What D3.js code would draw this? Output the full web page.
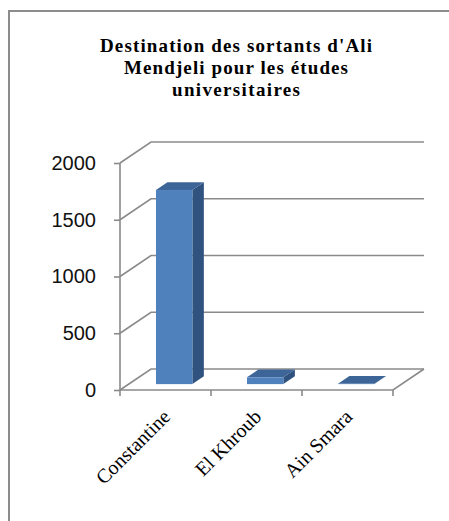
<!DOCTYPE html>
<html>
<head>
<meta charset="utf-8">
<script src="https://cdn.jsdelivr.net/npm/d3@7"></script>
<style>
  body{margin:0;background:#fff}
  svg{display:block}
</style>
</head>
<body>
<div class="chart"></div>
<script>
let titleLines=["Destination des sortants d'Ali","Mendjeli pour les études","universitaires"]
let categories=['Constantine','El Khroub','Ain Smara']
let values=[1710,60,3]
let yTicks=[0,500,1000,1500,2000]

let w=449, h=521
// front-left corner of the floor and the depth shift of the 3d box
let x0=120, x1=393, y0=390, yTop=163
let dx=31, dy=-21
let t0=0.28, t1=0.65   // bar front / back depth

let svg=d3.select('.chart').append('svg').attr('width',w).attr('height',h)

svg.append('rect').attr('x',9).attr('y',11).attr('width',470).attr('height',540)
  .attr('fill','none').attr('stroke','#8c8c8c').attr('stroke-width',2)

let yScale=d3.scaleLinear().domain([0,2000]).range([y0,yTop])
let xScale=d3.scaleBand().domain(categories).range([x0,x1])

// title
let tw=[272,224,128]
svg.selectAll('.title').data(titleLines).enter().append('text')
  .attr('class','title')
  .attr('x',236).attr('y',(d,i)=>52+i*22)
  .attr('text-anchor','middle')
  .attr('textLength',(d,i)=>tw[i]).attr('lengthAdjust','spacing')
  .style('font-family','Liberation Serif, serif').style('font-weight','bold').style('font-size','19px')
  .text(d=>d)

let grey='#8a8a8a'
// gridlines on the side and back wall
let line=d3.line()
svg.selectAll('.grid').data(yTicks).enter().append('path')
  .attr('class','grid')
  .attr('d',d=>line([[x0,yScale(d)],[x0+dx,yScale(d)+dy],[x1+dx,yScale(d)+dy]]))
  .attr('fill','none').attr('stroke',grey).attr('stroke-width',1.6)
// floor front and right edge
svg.append('path').attr('d',line([[x0,y0],[x1,y0],[x1+dx,y0+dy]]))
  .attr('fill','none').attr('stroke',grey).attr('stroke-width',1.6)

// y axis
let yAxis=d3.axisLeft(yScale).tickValues(yTicks).tickFormat(d3.format('d')).tickSize(6).tickPadding(18)
let gy=svg.append('g').attr('transform','translate('+x0+',0)').call(yAxis)
gy.select('.domain').attr('stroke',grey).attr('stroke-width',1.6).attr('d','M0,'+y0+'V'+yTop)
gy.selectAll('.tick line').attr('stroke',grey).attr('stroke-width',1.6)
gy.selectAll('.tick text').style('font-family','Liberation Sans, Arial, sans-serif').style('font-size','20px').attr('fill','#111')

// x axis ticks
let xt=categories.map(c=>xScale(c)).concat([x1])
svg.selectAll('.xtick').data(xt).enter().append('line')
  .attr('x1',d=>d).attr('x2',d=>d).attr('y1',y0).attr('y2',y0+6)
  .attr('stroke',grey).attr('stroke-width',1.6)

svg.selectAll('.xlab').data(categories).enter().append('text')
  .attr('transform',d=>'translate('+(xScale(d)+xScale.bandwidth()/2+6)+','+(y0+28)+') rotate(-45)')
  .attr('text-anchor','end')
  .style('font-family','Liberation Serif, serif').style('font-size','20px')
  .text(d=>d)

// bars
let bw=xScale.bandwidth()*0.4
let bars=svg.selectAll('.bar').data(categories).enter().append('g').attr('class','bar')
bars.each(function(c,i){
  let g=d3.select(this)
  let xl=xScale(c)+xScale.bandwidth()/2-bw/2+t0*dx
  let xr=xl+bw
  let yb=y0+t0*dy
  let yt=yScale(values[i])+t0*dy
  let ox=(t1-t0)*dx, oy=(t1-t0)*dy
  g.append('path').attr('d',line([[xr,yb],[xr+ox,yb+oy],[xr+ox,yt+oy],[xr,yt]])+'Z').attr('fill','#30527f')
  g.append('path').attr('d',line([[xl,yt],[xl+ox,yt+oy],[xr+ox,yt+oy],[xr,yt]])+'Z').attr('fill','#3d6597')
  g.append('rect').attr('x',xl).attr('y',yt).attr('width',bw).attr('height',yb-yt).attr('fill','#4f81bd')
})
</script>
</body>
</html>
